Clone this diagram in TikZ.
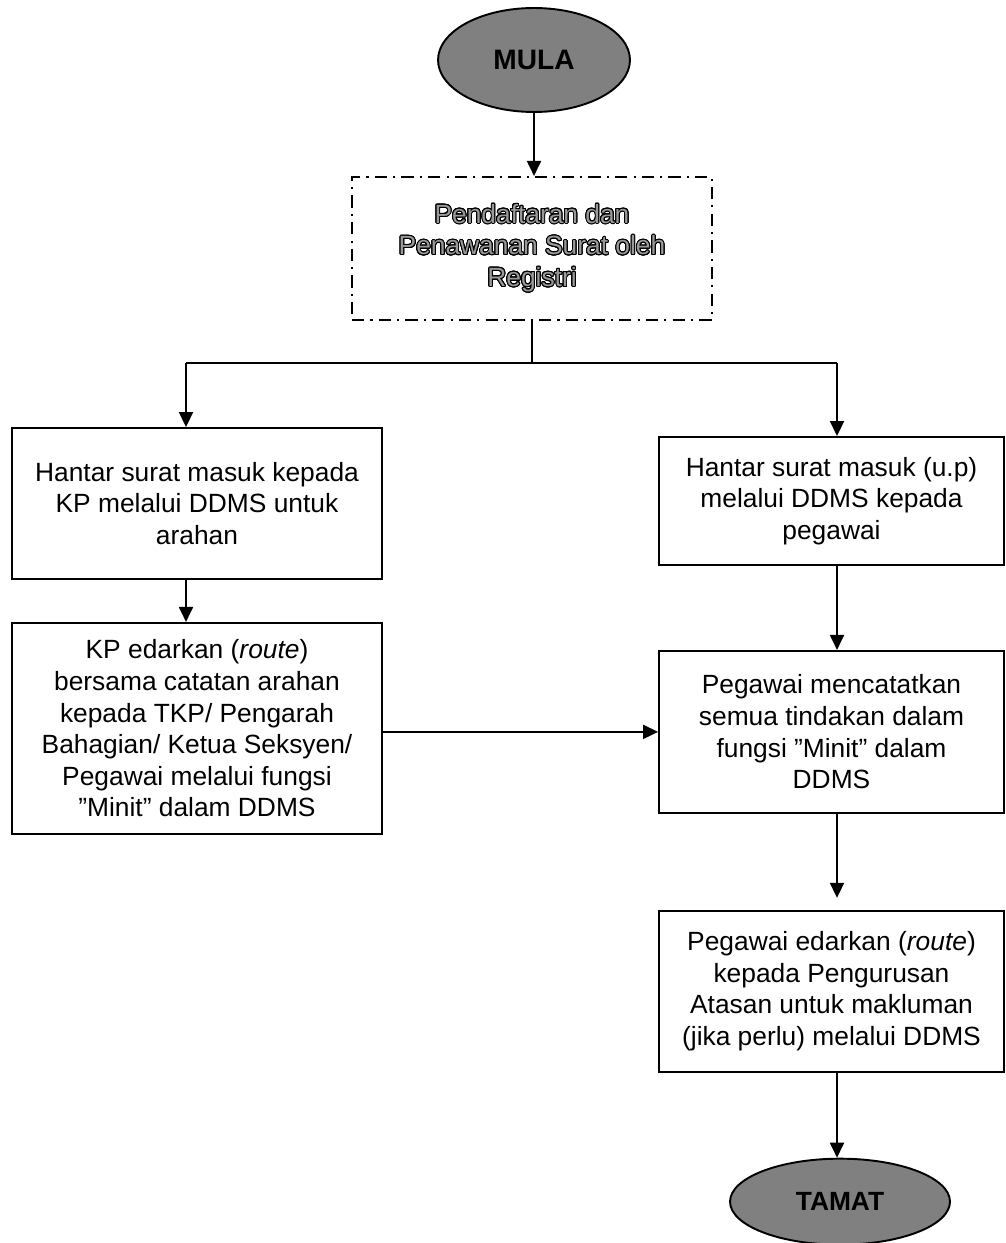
\documentclass[tikz,border=0pt]{standalone}
\usepackage{fontspec}
\setmainfont{Liberation Sans}
\usepackage{contour}
\usetikzlibrary{arrows.meta,positioning,shapes.geometric}

\definecolor{termgray}{RGB}{128,128,128}
\contourlength{0.55pt}
\contournumber{24}
\newcommand{\outl}[1]{\contour{black}{\textcolor{black!40}{#1}}}

\begin{document}
\begin{tikzpicture}[
      x=0.02cm, y=-0.02cm,
      line width=1.1pt,
      term/.style={ellipse,draw,fill=termgray,inner sep=0pt},
      proc/.style={rectangle,draw,align=center,font=\fontsize{15}{18}\selectfont},
      regbox/.style={rectangle,draw,align=center,dash pattern=on 7pt off 3.5pt on 1.2pt off 3.5pt,
        minimum width=7.2cm,minimum height=2.86cm,font=\fontsize{15}{18}\selectfont},
      >={Triangle[length=0.3cm,width=0.28cm]}
    ]
    \useasboundingbox (0,0) rectangle (1006,1243);

    \node[term,minimum width=3.84cm,minimum height=2.08cm,font=\bfseries\fontsize{16}{19}\selectfont] (mula) at (534,60) {MULA};
    \node[regbox,below=1.26cm of mula,xshift=-0.04cm] (reg) {\outl{Pendaftaran dan}\\\outl{Penawanan Surat oleh}\\\outl{Registri}};

    \node[proc,minimum width=7.4cm,minimum height=3.02cm] (kp) at (197,503.5) {Hantar surat masuk kepada\\KP melalui DDMS untuk\\arahan};
    \node[proc,minimum width=7.4cm,minimum height=4.22cm,below=0.84cm of kp] (edar) {KP edarkan (\textit{route})\\bersama catatan arahan\\kepada TKP/ Pengarah\\Bahagian/ Ketua Seksyen/\\Pegawai melalui fungsi\\”Minit” dalam DDMS};

    \node[proc,minimum width=6.9cm,minimum height=2.56cm] (up) at (831.5,501) {Hantar surat masuk (u.p)\\melalui DDMS kepada\\pegawai};
    \node[proc,minimum width=6.9cm,minimum height=3.24cm,below=1.68cm of up] (catat) {Pegawai mencatatkan\\semua tindakan dalam\\fungsi ”Minit” dalam\\DDMS};
    \node[proc,minimum width=6.9cm,minimum height=3.22cm,below=1.92cm of catat] (edarpeg) {Pegawai edarkan (\textit{route})\\kepada Pengurusan\\Atasan untuk makluman\\(jika perlu) melalui DDMS};
    \node[term,minimum width=4.4cm,minimum height=1.72cm,font=\bfseries\fontsize{15}{18}\selectfont,below=1.7cm of edarpeg,xshift=0.17cm] (tamat) {TAMAT};

    \coordinate (jL) at (186,363);
    \coordinate (jR) at (837,363);

    \draw[->] (mula.south) -- (mula.south |- reg.north);
    \draw (reg.south) -- (reg.south |- jL);
    \draw (jL) -- (jR);
    \draw[->] (jL) -- (jL |- kp.north);
    \draw[->] (jR) -- (jR |- up.north);
    \draw[->] (jL |- kp.south) -- (jL |- edar.north);
    \draw[->] (edar.east |- catat.west) -- (catat.west);
    \draw[->] (jR |- up.south) -- (jR |- catat.north);
    \draw[->,shorten >=0.24cm] (jR |- catat.south) -- (jR |- edarpeg.north);
    \draw[->] (jR |- edarpeg.south) -- (jR |- tamat.north);
  \end{tikzpicture}
\end{document}
